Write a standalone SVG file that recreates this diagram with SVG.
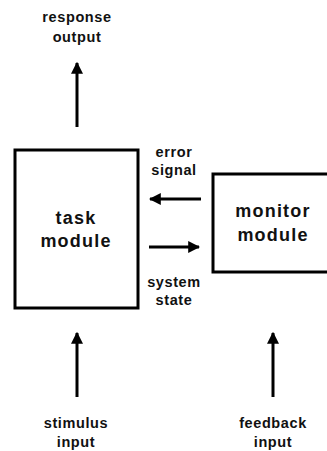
<svg xmlns="http://www.w3.org/2000/svg" width="327" height="451" viewBox="0 0 327 451">
<style>
.box{fill:#fff;stroke:#000;stroke-width:3}
.lbl{font-family:"Liberation Sans",Arial,sans-serif;font-weight:bold;font-size:14.5px;letter-spacing:0.6px;text-anchor:middle;fill:#111}
.big{font-family:"Liberation Sans",Arial,sans-serif;font-weight:bold;font-size:18px;letter-spacing:1.2px;text-anchor:middle;fill:#111}
.arr{stroke:#000;stroke-width:3;fill:none;marker-end:url(#ah)}
</style>
<defs>
<marker id="ah" viewBox="0 0 10 10" refX="9" refY="5" markerWidth="4" markerHeight="4" markerUnits="strokeWidth" orient="auto">
<path d="M0,0 L10,5 L0,10 z" fill="#000"/>
</marker>
</defs>
<rect width="327" height="451" fill="#fff"/>
<g id="task-module">
<rect class="box" x="15" y="150" width="123" height="158"/>
<text class="big" x="76" y="224">task</text>
<text class="big" x="76" y="247">module</text>
</g>
<g id="monitor-module">
<rect class="box" x="213" y="174" width="120" height="98"/>
<text class="big" x="273" y="217">monitor</text>
<text class="big" x="273" y="241">module</text>
</g>
<g id="response-output">
<text class="lbl" x="77" y="22">response</text>
<text class="lbl" x="77" y="42">output</text>
</g>
<g id="stimulus-input">
<text class="lbl" x="76" y="428">stimulus</text>
<text class="lbl" x="76" y="447">input</text>
</g>
<g id="feedback-input">
<text class="lbl" x="273" y="428">feedback</text>
<text class="lbl" x="273" y="447">input</text>
</g>
<g id="connectors">
<line class="arr" x1="77" y1="127" x2="77" y2="63"/>
<line class="arr" x1="201" y1="199" x2="150" y2="199"/>
<line class="arr" x1="149" y1="247" x2="199" y2="247"/>
<line class="arr" x1="77" y1="397" x2="77" y2="333"/>
<line class="arr" x1="273" y1="397" x2="273" y2="333"/>
<text class="lbl" x="174" y="157">error</text>
<text class="lbl" x="174" y="175">signal</text>
<text class="lbl" x="174" y="287">system</text>
<text class="lbl" x="174" y="305">state</text>
</g>
</svg>
